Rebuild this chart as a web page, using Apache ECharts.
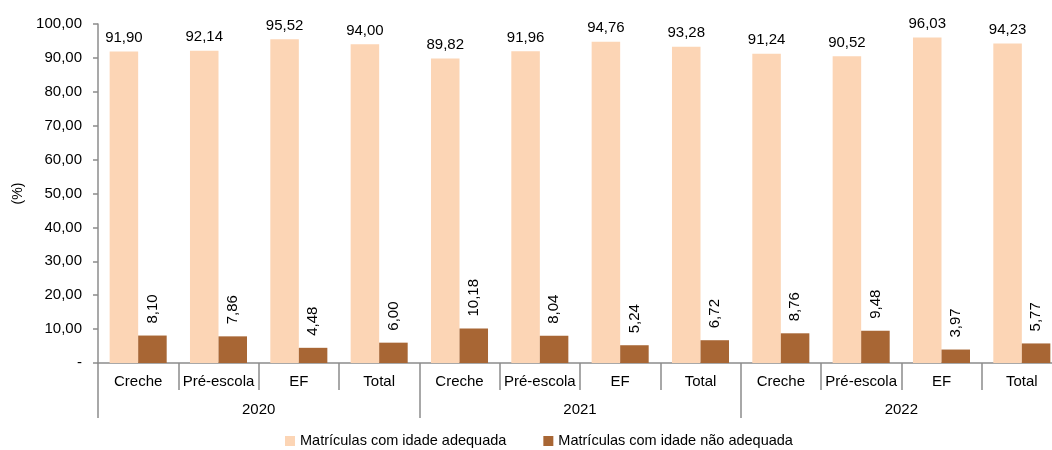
<!DOCTYPE html>
<html><head><meta charset="utf-8">
<script src="https://cdn.jsdelivr.net/npm/echarts@6/dist/echarts.min.js"></script>
<style>html,body{margin:0;padding:0;background:#fff;overflow:hidden;width:1052px;height:450px}#c{width:1064px;height:450px}</style>
</head><body><div id="c"></div>
<script>
const categories = ['Creche','Pré-escola','EF','Total','Creche','Pré-escola','EF','Total','Creche','Pré-escola','EF','Total'];
const years = ['2020','2021','2022'];
const adequada = [91.90,92.14,95.52,94.00,89.82,91.96,94.76,93.28,91.24,90.52,96.03,94.23];
const naoAdequada = [8.10,7.86,4.48,6.00,10.18,8.04,5.24,6.72,8.76,9.48,3.97,5.77];
const seriesNames = ['Matrículas com idade adequada','Matrículas com idade não adequada'];
const yTicks = [0,10,20,30,40,50,60,70,80,90,100];

const fmt = v => v.toFixed(2).replace('.', ',');
const FONT = 'Liberation Sans';
const axisGray = '#8c8c8c';
const chart = echarts.init(document.getElementById('c'), null, {renderer:'canvas'});
chart.setOption({
  animation: false,
  textStyle: {fontFamily: FONT, color: '#000'},
  grid: {left: 98, right: 2, top: 24, bottom: 87},
  legend: {
    data: seriesNames, left: 285, top: 433, padding: 0, itemWidth: 10, itemHeight: 10, itemGap: 37,
    icon: 'rect', textStyle: {fontFamily: FONT, fontSize: 14.5, color: '#000', lineHeight: 16}
  },
  xAxis: [
    {type: 'category', data: categories, position: 'bottom',
     axisLine: {lineStyle: {color: axisGray, width: 1.5}},
     axisTick: {show: true, length: 27, interval: 0, lineStyle: {color: axisGray, width: 1.5}},
     axisLabel: {interval: 0, margin: 11, fontSize: 15, color: '#000', fontFamily: FONT}},
    {type: 'category', data: years, position: 'bottom',
     axisLine: {show: false},
     axisTick: {show: true, length: 55, interval: 0, lineStyle: {color: axisGray, width: 1.5}},
     axisLabel: {interval: 0, margin: 39, fontSize: 15, color: '#000', fontFamily: FONT}}
  ],
  yAxis: {
    type: 'value', min: 0, max: 100, interval: 10,
    name: '(%)', nameLocation: 'middle', nameGap: 71, nameRotate: 90,
    nameTextStyle: {fontSize: 14, color: '#000', fontFamily: FONT},
    axisLine: {show: true, lineStyle: {color: axisGray, width: 1.5}},
    axisTick: {show: true, length: 5, lineStyle: {color: axisGray, width: 1.5}},
    splitLine: {show: false},
    axisLabel: {fontSize: 15, color: '#000', margin: 16, fontFamily: FONT,
      formatter: v => yTicks.includes(v) ? (v === 0 ? '-' : fmt(v)) : ''}
  },
  series: [
    {name: seriesNames[0], type: 'bar', data: adequada, barGap: '0%', barCategoryGap: '29%',
     itemStyle: {color: '#FCD5B5'},
     label: {show: true, position: 'top', distance: 6, fontSize: 15, color: '#000', fontFamily: FONT,
       formatter: p => fmt(p.value)}},
    {name: seriesNames[1], type: 'bar', data: naoAdequada, barGap: '0%', barCategoryGap: '29%',
     itemStyle: {color: '#A86634'},
     label: {show: true, position: 'top', distance: 12, rotate: 90, align: 'left', verticalAlign: 'middle',
       fontSize: 15, color: '#000', fontFamily: FONT, formatter: p => fmt(p.value)}}
  ]
});
</script></body></html>
